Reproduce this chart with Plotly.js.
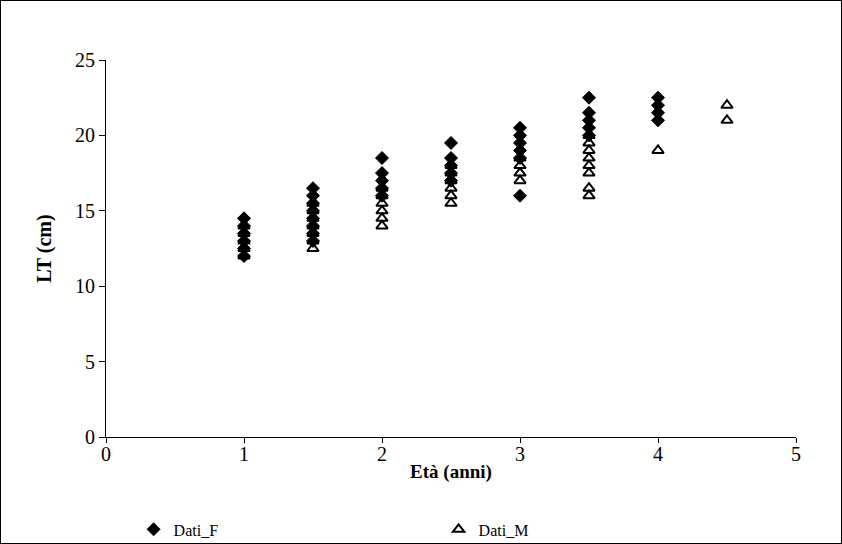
<!DOCTYPE html>
<html><head><meta charset="utf-8">
<script src="https://cdn.plot.ly/plotly-3.0.1.min.js"></script>
<style>
body{margin:0;padding:0;background:#fff;}
#chart{width:842px;height:544px;box-sizing:border-box;border:1px solid #000;}
</style></head>
<body><div id="chart"></div>
<script>
// Data_F (females)
const femaleAge = [1,1,1,1,1,1, 1.5,1.5,1.5,1.5,1.5,1.5,1.5,1.5, 2,2,2,2,2, 2.5,2.5,2.5,2.5,2.5, 3,3,3,3,3,3, 3.5,3.5,3.5,3.5,3.5, 4,4,4,4];
const femaleLT  = [14.5,14,13.5,13,12.5,12, 16.5,16,15.5,15,14.5,14,13.5,13, 18.5,17.5,17,16.5,16, 19.5,18.5,18,17.5,17, 20.5,20,19.5,19,18.5,16, 22.5,21.5,21,20.5,20, 22.5,22,21.5,21];
// Data_M (males)
const maleAge = [1,1,1,1,1, 1.5,1.5,1.5,1.5,1.5,1.5,1.5, 2,2,2,2,2,2, 2.5,2.5,2.5,2.5,2.5,2.5, 3,3,3,3, 3.5,3.5,3.5,3.5,3.5,3.5,3.5,3.5, 4, 4.5,4.5];
const maleLT  = [12,12.5,13,13.5,14, 12.5,13,13.5,14,14.5,15,15.5, 14,14.5,15,15.5,16,16.5, 15.5,16,16.5,17,17.5,18, 17,17.5,18,18.5, 16,16.5,17.5,18,18.5,19,19.5,20, 19, 21,22];
const seriesNames = ['Dati_F','Dati_M'];
const xTicks = [0,1,2,3,4,5];
const yTicks = [0,5,10,15,20,25];

const font = {family:'Times New Roman, Liberation Serif, serif', color:'#000'};
const traces = [
  {x:femaleAge, y:femaleLT, name:seriesNames[0], type:'scatter', mode:'markers',
   marker:{symbol:'diamond', size:10, color:'#000', line:{color:'#000',width:1}}},
  {x:maleAge, y:maleLT, name:seriesNames[1], type:'scatter', mode:'markers',
   marker:{symbol:'triangle-up-open', size:10, color:'#000', line:{color:'#000',width:2}}}
];
const layout = {
  width:840, height:542,
  margin:{l:105, r:45, t:59, b:106, autoexpand:false},
  paper_bgcolor:'#fff', plot_bgcolor:'#fff',
  font:Object.assign({size:16}, font),
  showlegend:true,
  legend:{orientation:'h', x:0.04, y:-0.2, xanchor:'left', yanchor:'top',
          entrywidth:260, entrywidthmode:'pixels', font:Object.assign({size:16}, font),
          itemwidth:30, tracegroupgap:0, bgcolor:'rgba(0,0,0,0)'},
  xaxis:{range:[0,5], tickvals:xTicks, ticktext:xTicks.map(String), showgrid:false, zeroline:false,
         showline:true, linecolor:'#000', linewidth:1, ticks:'outside', ticklen:5, tickcolor:'#000',
         ticklabelstandoff:-6,
         tickfont:Object.assign({size:20}, font), automargin:false,
         title:{text:'<b>Età (anni)</b>', font:Object.assign({size:19}, font), standoff:0}},
  yaxis:{range:[0,25], tickvals:yTicks, ticktext:yTicks.map(String), showgrid:false, zeroline:false,
         showline:true, linecolor:'#000', linewidth:1, ticks:'outside', ticklen:6, tickcolor:'#000',
         tickfont:Object.assign({size:20}, font), automargin:false,
         title:{text:'<b>LT (cm)</b>', font:Object.assign({size:20}, font), standoff:18}}
};
Plotly.newPlot('chart', traces, layout, {displayModeBar:false, staticPlot:true});
</script></body></html>
